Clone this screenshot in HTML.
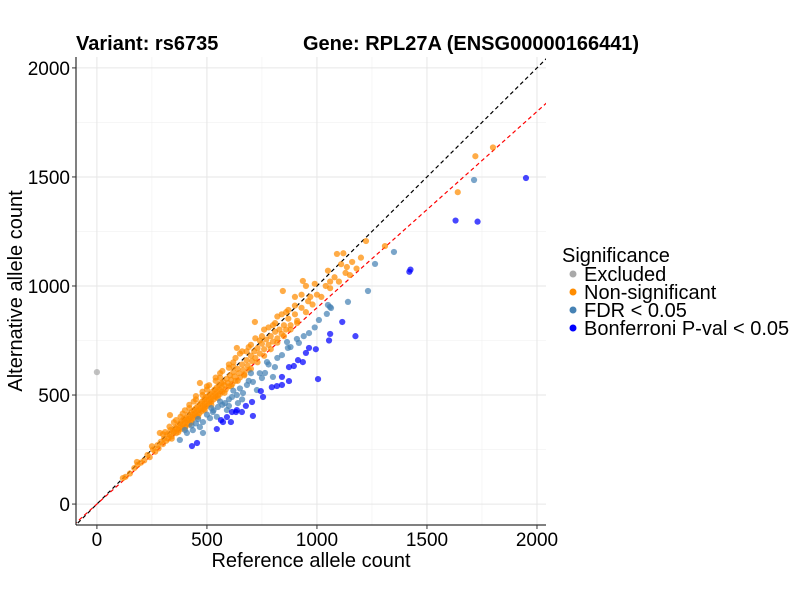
<!DOCTYPE html>
<html><head><meta charset="utf-8"><style>
body{margin:0;background:#fff;}
svg text{font-family:"Liberation Sans",sans-serif;}
</style></head><body>
<svg id="chart" width="800" height="600" xmlns="http://www.w3.org/2000/svg">
<defs><clipPath id="clip"><rect x="76" y="57" width="470" height="468"/></clipPath></defs>
<g id="grid"></g>
<g id="lines" clip-path="url(#clip)"></g>
<g id="points" clip-path="url(#clip)"></g>
<g id="axes"></g>
<text x="76" y="50" font-size="20" font-weight="bold">Variant: rs6735</text>
<text x="303" y="50" font-size="20" font-weight="bold">Gene: RPL27A (ENSG00000166441)</text>
<text x="311" y="567" font-size="20" text-anchor="middle">Reference allele count</text>
<text transform="translate(22,291) rotate(-90)" font-size="20" text-anchor="middle">Alternative allele count</text>
<g id="legend">
<text x="562" y="262" font-size="20">Significance</text>
</g>
</svg>
<script>
const xTicks=[0,500,1000,1500,2000];
const yTicks=[0,500,1000,1500,2000];
const minorTicks=[250,750,1250,1750];
const excluded=[[0,605]];
const nonsig=[[1800,1635],[1720,1595],[1640,1430],[1223,1206],[1309,1183],[1091,1147],[1136,1087],[936,1023],[845,977],[718,835],[636,716],[468,555],[332,408],[286,326],[182,193],[118,119],
[130,125],[150,140],[170,165],[185,180],[200,190],[215,200],[230,225],[240,215],[255,250],[265,240],[275,270],[280,255],[290,285],[300,275],[305,300],[315,290],[320,320],[325,300],[330,315],[335,340],[340,310],[345,335],[350,330],[355,350],[360,325],[362,345],[368,360],[372,340],[378,370],[380,355],[385,380],[388,345],[392,365],[395,390],[400,375],[402,355],[405,395],[410,385],[412,370],[415,410],[418,390],[420,365],[425,400],[428,420],[430,385],[435,410],[438,395],[440,430],[445,415],[448,400],[450,440],[452,425],[455,405],[460,450],[462,430],[465,415],[470,460],[472,440],[475,425],[478,470],[480,450],[485,435],[488,480],[490,460],[492,445],[495,490],[498,470],[500,450],[505,495],[508,478],[510,460],[515,505],[518,485],[520,470],[525,515],[528,495],[530,480],[535,525],[538,505],[540,490],[545,535],[548,515],[550,498],[555,545],[558,525],[560,505],[565,555],[568,535],[570,515],[575,560],[580,545],[585,525],[590,575],[595,555],[600,540],[605,590],[610,570],[615,550],[620,605],[625,585],[630,565],[640,620],[645,600],[650,580],[660,640],[665,615],[670,595],[680,660],[685,635],[690,615],[700,680],[705,655],[715,700],[720,670],[730,715],[740,690],[750,735],[760,710],[770,755],[780,730],[790,770],[800,745],[810,790],[820,760],[830,800],[840,780],[850,820],[860,800],[870,850],[880,820],[900,870],[910,840],[930,900],[950,880],[960,930],[980,915],[1000,960],[1020,950],[1040,1000],[1060,990],[1080,1040],[1100,1020],[1130,1060],[1150,1050],[1180,1080],
[560,600],[600,640],[500,540],[450,480],[650,690],[700,730],[760,800],[820,860],[900,950],[950,1000],[400,430],[350,375],[420,440],[480,500],[540,565],[620,650],[300,320],[250,265],
[330,355],[360,385],[390,415],[420,455],[450,495],[480,515],[510,545],[540,580],[570,610],[600,625],[630,670],[660,700],[690,720],[720,760],[750,770],[780,810],[810,830],[840,870],[870,890],[900,910],[930,960],
[340,300],[370,330],[400,350],[430,375],[460,400],[490,430],[520,455],[550,485],[580,510],[610,540],[640,565],[670,590],[700,620],[730,650],[760,680],[790,710],[820,740],[850,770],[880,800],[910,830],
[310,330],[380,400],[440,470],[500,525],[560,580],[620,630],[680,700],[740,750],[800,820],[860,880],[990,1010],[1050,1070],[1110,1100],[1160,1110],[1200,1130],[1060,1020],[970,950],[1120,1150]];
const fdr=[[1714,1486],[1350,1156],[1264,1101],[1232,977],[1141,927],[1050,913],[1064,899],[1045,872],[1009,844],[964,784],[1059,904],[918,739],[909,757],[868,716],[864,743],[841,683],[809,628],[773,651],[764,601],[750,578],[709,560],[682,546],[664,509],[636,500],[614,491],[582,463],[550,445],[527,422],[514,394],[482,376],[468,353],[436,339],[482,326],[409,326],[377,294],[641,463],[727,523],[800,583],[591,431],[700,600],[620,520],[560,470],[520,440],[450,370],
[500,410],[530,430],[570,455],[600,480],[650,530],[690,565],[740,600],[780,640],[820,670],[880,720],[940,770],[990,810],[460,390],[430,360],[400,340],[545,400],[600,450],[660,480]];
const bonf=[[1950,1495],[1630,1300],[1730,1295],[1425,1075],[1420,1065],[1115,835],[1175,770],[1060,780],[1055,750],[995,710],[1005,573],[964,716],[950,693],[936,651],[914,660],[895,633],[873,628],[873,564],[841,583],[841,546],[818,541],[795,536],[745,518],[755,491],[705,468],[677,450],[659,422],[632,422],[709,404],[609,376],[573,376],[545,344],[455,280],[432,266],[614,422],[636,431],[564,385],[591,399]];
const NS="http://www.w3.org/2000/svg";
const xMin=-95,xMax=2041,yMin=-96,yMax=2050,L=76,R=546,T=57,B=525;
function sx(v){return L+(v-xMin)/(xMax-xMin)*(R-L);}
function sy(v){return B-(v-yMin)/(yMax-yMin)*(B-T);}
function mk(tag,attrs,parent){const e=document.createElementNS(NS,tag);for(const k in attrs)e.setAttribute(k,attrs[k]);parent.appendChild(e);return e;}
const grid=document.getElementById('grid');
minorTicks.forEach(v=>{
 let a=mk('line',{x1:sx(v),x2:sx(v),y1:T,y2:B,stroke:'#f0f0f0','stroke-width':0.6},grid);
 
 
 let b=mk('line',{x1:L,x2:R,y1:sy(v),y2:sy(v),stroke:'#f0f0f0','stroke-width':0.6},grid);
 
 
});
xTicks.forEach(v=>{
 let a=mk('line',{x1:sx(v),x2:sx(v),y1:T,y2:B,stroke:'#e6e6e6','stroke-width':1},grid);
 
 
});
yTicks.forEach(v=>{
 let a=mk('line',{x1:L,x2:R,y1:sy(v),y2:sy(v),stroke:'#e6e6e6','stroke-width':1},grid);
 
 
});
const lines=document.getElementById('lines');
let idl=mk('line',{x1:sx(-200),y1:sy(-200),x2:sx(2200),y2:sy(2200),stroke:'#000','stroke-width':1.2,'stroke-dasharray':'4,3'},lines);


const slope=0.9;
let rl=mk('line',{x1:sx(-200),y1:sy(-200*slope),x2:sx(2200),y2:sy(2200*slope),stroke:'#ff0000','stroke-width':1.2,'stroke-dasharray':'4,3'},lines);


const pts=document.getElementById('points');
function draw(arr,col,name){arr.forEach(p=>{
 const c=mk('circle',{cx:sx(p[0]),cy:sy(p[1]),r:3.1,fill:col,'fill-opacity':0.72},pts);
 
 
});}
draw(excluded,'#a9a9a9','point-excluded');
draw(nonsig,'#ff8c00','point-non-significant');
draw(fdr,'#4682b4','point-fdr');
draw(bonf,'#0000ff','point-bonferroni');
const axes=document.getElementById('axes');
mk('line',{x1:L,x2:L,y1:T,y2:B,stroke:'#000','stroke-width':1},axes);
mk('line',{x1:L,x2:R,y1:B,y2:B,stroke:'#000','stroke-width':1},axes);
xTicks.forEach(v=>{
 mk('line',{x1:sx(v),x2:sx(v),y1:B,y2:B+4,stroke:'#333'},axes);
 const t=mk('text',{x:sx(v),y:B+21,'font-size':19,'text-anchor':'middle',fill:'#000'},axes);
 t.textContent=v;
 
 
});
yTicks.forEach(v=>{
 mk('line',{x1:L-4,x2:L,y1:sy(v),y2:sy(v),stroke:'#333'},axes);
 const t=mk('text',{x:L-6,y:sy(v)+7,'font-size':19,'text-anchor':'end',fill:'#000'},axes);
 t.textContent=v;
 
 
});
const legendLabels=['Excluded','Non-significant','FDR < 0.05','Bonferroni P-val < 0.05'];
const legendCols=['#a9a9a9','#ff8c00','#4682b4','#0000ff'];
const lg=document.getElementById('legend');
legendLabels.forEach((s,i)=>{
 const y=274+i*18;
 const c=mk('circle',{cx:573,cy:y,r:3.5,fill:legendCols[i]},lg);
 
 
 const t=mk('text',{x:584,y:y+7,'font-size':20},lg);
 t.textContent=s;
 
 
});
</script>
</body></html>
